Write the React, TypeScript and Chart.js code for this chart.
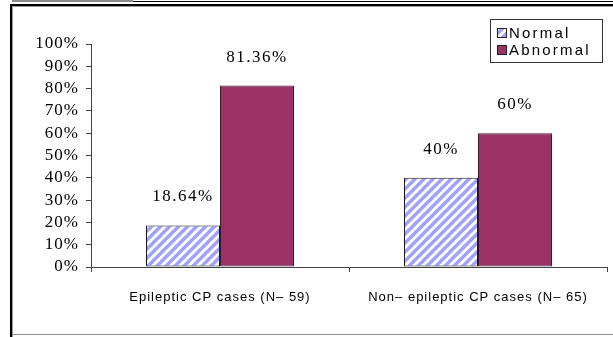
import { useEffect, useRef } from 'react';
import { Chart, registerables } from 'chart.js';

Chart.register(...registerables);

// Groups along the x axis
const categories = ['Epileptic CP cases (N– 59)', 'Non– epileptic CP cases (N– 65)'];
// Share of EEG findings per group, in percent
const normalValues = [18.64, 40];
const abnormalValues = [81.36, 60];
const seriesNames = ['Normal', 'Abnormal'];
// Y axis range and step, in percent
const yMin = 0;
const yMax = 100;
const yStep = 10;

const SERIF = '"Liberation Serif", "Times New Roman", serif';
const SANS = '"Liberation Sans", Arial, sans-serif';

function makeStripes(): CanvasPattern | string {
  const size = 9;
  const c = document.createElement('canvas');
  c.width = size;
  c.height = size;
  const g = c.getContext('2d');
  if (!g) return '#9999ff';
  g.fillStyle = '#ffffff';
  g.fillRect(0, 0, size, size);
  g.strokeStyle = '#a0a0ff';
  g.lineWidth = 3.4;
  g.beginPath();
  g.moveTo(-2, size + 2);
  g.lineTo(size + 2, -2);
  g.moveTo(-3, 3);
  g.lineTo(3, -3);
  g.moveTo(size - 3, size + 3);
  g.lineTo(size + 3, size - 3);
  g.stroke();
  return g.createPattern(c, 'repeat') || '#9999ff';
}

function fmt(v: number): string {
  return (Number.isInteger(v) ? String(v) : v.toFixed(2)) + '%';
}

export default function App() {
  const ref = useRef<HTMLCanvasElement | null>(null);

  useEffect(() => {
    const canvas = ref.current;
    if (!canvas) return;
    const stripes = makeStripes();

    const spacing = {
      id: 'spacing',
      beforeDraw(chart: any) {
        (chart.ctx as any).letterSpacing = '1px';
      },
    };

    const valueLabels = {
      id: 'valueLabels',
      afterDatasetsDraw(chart: any) {
        const ctx = chart.ctx as CanvasRenderingContext2D;
        ctx.save();
        (ctx as any).letterSpacing = '1.5px';
        ctx.font = `17px ${SERIF}`;
        ctx.fillStyle = '#000';
        ctx.textAlign = 'center';
        ctx.textBaseline = 'alphabetic';
        chart.data.datasets.forEach((ds: any, di: number) => {
          const meta = chart.getDatasetMeta(di);
          meta.data.forEach((el: any, i: number) => {
            ctx.fillText(fmt(ds.data[i]), el.x, el.y - 24);
          });
        });
        ctx.restore();
      },
    };

    const boxedLegend = {
      id: 'boxedLegend',
      afterDraw(chart: any) {
        const ctx = chart.ctx as CanvasRenderingContext2D;
        ctx.save();
        (ctx as any).letterSpacing = '2.2px';
        ctx.strokeStyle = '#333';
        ctx.lineWidth = 1;
        ctx.strokeRect(490.5, 19.5, 112, 43);
        ctx.font = `15px ${SANS}`;
        ctx.textAlign = 'left';
        ctx.textBaseline = 'alphabetic';
        chart.data.datasets.forEach((ds: any, i: number) => {
          const top = 28.5 + i * 17;
          ctx.fillStyle = ds.backgroundColor;
          ctx.fillRect(497.5, top, 9, 9);
          ctx.strokeStyle = '#222';
          ctx.strokeRect(497.5, top, 9, 9);
          ctx.fillStyle = '#000';
          ctx.fillText(ds.label, 509, 38 + i * 17);
        });
        ctx.restore();
      },
    };

    const chart = new Chart(canvas, {
      type: 'bar',
      data: {
        labels: categories,
        datasets: [
          {
            label: seriesNames[0],
            data: normalValues,
            backgroundColor: stripes as any,
            borderColor: '#1a1a1a',
            borderWidth: 1,
            borderSkipped: false,
          },
          {
            label: seriesNames[1],
            data: abnormalValues,
            backgroundColor: '#993366',
            borderColor: '#3a1a2a',
            borderWidth: 1,
            borderSkipped: false,
          },
        ],
      },
      options: {
        responsive: false,
        animation: false,
        devicePixelRatio: 1,
        layout: { padding: { left: 0, right: 6, top: 44, bottom: 0 } },
        datasets: {
          bar: { categoryPercentage: 0.5736, barPercentage: 1 },
        },
        plugins: {
          legend: { display: false },
          title: { display: false },
          tooltip: { enabled: false },
        },
        scales: {
          x: {
            z: 1,
            afterFit(s: any) {
              s.height = 70;
            },
            grid: {
              offset: true,
              drawOnChartArea: false,
              drawTicks: true,
              tickLength: 5,
              color: '#444',
            },
            border: { display: true, color: '#444', width: 1 },
            ticks: {
              color: '#000',
              padding: 18,
              maxRotation: 0,
              autoSkip: false,
              font: { family: SANS, size: 13 },
            },
          },
          y: {
            min: yMin,
            max: yMax,
            afterFit(s: any) {
              s.width = 91;
            },
            grid: {
              drawOnChartArea: false,
              drawTicks: true,
              tickLength: 5,
              color: '#444',
            },
            border: { display: true, color: '#444', width: 1 },
            ticks: {
              stepSize: yStep,
              autoSkip: false,
              color: '#000',
              padding: 7,
              font: { family: SERIF, size: 17 },
              callback: (v: any) => `${v}%`,
            },
          },
        },
      },
      plugins: [spacing, valueLabels, boxedLegend],
    });

    return () => chart.destroy();
  }, []);

  const line = (s: React.CSSProperties) => <div style={{ position: 'absolute', ...s }} />;

  return (
    <div
      style={{
        position: 'fixed',
        left: 0,
        top: 0,
        width: 613,
        height: 337,
        background: '#fff',
        overflow: 'hidden',
      }}
    >
      {line({ left: 12, top: 0, width: 121, height: 2, background: '#8c8c8c' })}
      {line({ left: 133, top: 1, right: 0, height: 1, background: '#000' })}
      {line({ left: 10, top: 4, right: 0, height: 2, background: '#000' })}
      {line({ left: 12, top: 6, right: 0, height: 1, background: '#9a9a9a' })}
      {line({ left: 10, top: 4, width: 2, bottom: 0, background: '#000' })}
      {line({ left: 12, top: 6, width: 1, bottom: 0, background: '#9a9a9a' })}
      {line({ left: 12, top: 334, right: 0, height: 1, background: '#8c8c8c' })}
      <canvas
        ref={ref}
        width={613}
        height={337}
        style={{ position: 'absolute', left: 0, top: 0, width: 613, height: 337 }}
      />
    </div>
  );
}
